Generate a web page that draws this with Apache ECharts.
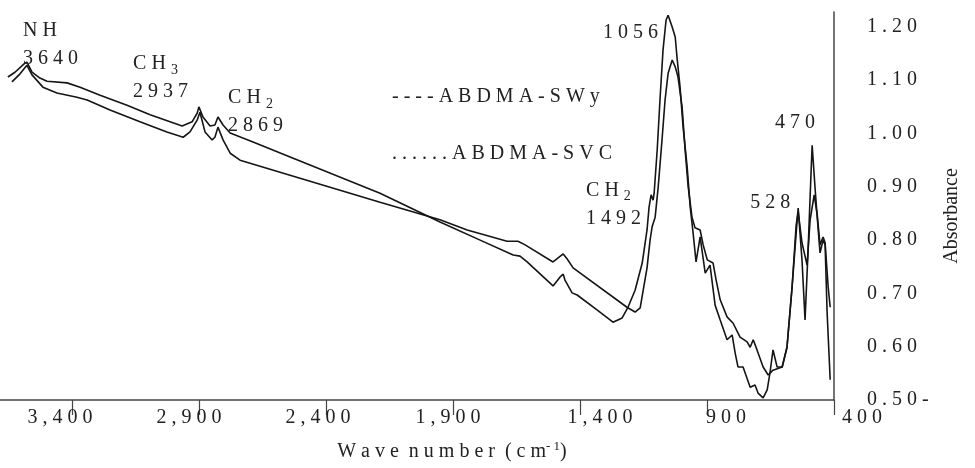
<!DOCTYPE html>
<html>
<head>
<meta charset="utf-8">
<script src="https://cdn.jsdelivr.net/npm/echarts@6/dist/echarts.min.js"></script>
<style>
html, body { margin: 0; padding: 0; background: #fff; }
#chart { width: 975px; height: 468px; }
</style>
</head>
<body>
<div id="chart"></div>
<script>
// spectra: wave number (cm-1) and absorbance
const swyWave = [3652, 3624, 3585, 3577, 3557, 3526, 3498, 3419, 3368, 3289, 3183, 3092, 2966, 2927, 2907, 2900, 2884, 2856, 2837, 2825, 2805, 2777, 2687, 2541, 2187, 1951, 1793, 1663, 1636, 1608, 1506, 1478, 1466, 1459, 1431, 1411, 1333, 1270, 1234, 1211, 1183, 1155, 1136, 1128, 1120, 1112, 1108, 1096, 1085, 1073, 1061, 1053, 1037, 1025, 1018, 1006, 994, 978, 966, 955, 943, 927, 907, 888, 868, 848, 821, 801, 789, 778, 758, 730, 711, 699, 679, 663, 652, 640, 624, 604, 585, 565, 545, 541, 526, 514, 502, 490, 486, 474, 466, 455, 443, 435, 427, 415]
const swyAbs = [1.106, 1.115, 1.132, 1.134, 1.115, 1.104, 1.098, 1.095, 1.087, 1.072, 1.053, 1.035, 1.014, 1.022, 1.038, 1.050, 1.031, 1.014, 1.016, 1.031, 1.016, 1.001, 0.984, 0.956, 0.888, 0.834, 0.800, 0.772, 0.770, 0.759, 0.714, 0.731, 0.736, 0.725, 0.701, 0.697, 0.669, 0.646, 0.654, 0.674, 0.706, 0.757, 0.819, 0.862, 0.885, 0.875, 0.888, 0.969, 1.063, 1.157, 1.213, 1.222, 1.200, 1.181, 1.143, 1.087, 1.012, 0.937, 0.862, 0.815, 0.759, 0.806, 0.738, 0.753, 0.678, 0.650, 0.613, 0.622, 0.588, 0.562, 0.562, 0.524, 0.528, 0.513, 0.504, 0.519, 0.551, 0.594, 0.562, 0.562, 0.599, 0.712, 0.838, 0.860, 0.763, 0.650, 0.781, 0.931, 0.978, 0.894, 0.843, 0.776, 0.800, 0.791, 0.663, 0.538]

const svcWave = [3636, 3604, 3577, 3557, 3514, 3459, 3380, 3340, 3250, 3132, 3026, 2962, 2935, 2907, 2896, 2876, 2848, 2837, 2825, 2805, 2777, 2738, 2187, 1951, 1844, 1687, 1644, 1616, 1506, 1466, 1451, 1427, 1215, 1183, 1163, 1151, 1136, 1124, 1116, 1104, 1092, 1077, 1065, 1053, 1037, 1025, 1014, 998, 986, 974, 959, 947, 927, 915, 899, 876, 864, 848, 821, 797, 770, 742, 730, 718, 703, 679, 659, 640, 604, 585, 565, 549, 541, 526, 506, 494, 478, 466, 455, 443, 435, 423, 415]
const svcAbs = [1.097, 1.112, 1.128, 1.110, 1.087, 1.076, 1.068, 1.063, 1.044, 1.022, 1.003, 0.993, 1.003, 1.025, 1.040, 1.003, 0.988, 0.993, 1.012, 0.988, 0.963, 0.950, 0.871, 0.838, 0.819, 0.798, 0.798, 0.791, 0.759, 0.774, 0.765, 0.748, 0.674, 0.665, 0.673, 0.706, 0.748, 0.800, 0.825, 0.843, 0.900, 0.988, 1.063, 1.113, 1.138, 1.125, 1.106, 1.050, 0.969, 0.900, 0.843, 0.823, 0.819, 0.791, 0.763, 0.757, 0.725, 0.688, 0.656, 0.644, 0.618, 0.609, 0.599, 0.613, 0.594, 0.562, 0.547, 0.556, 0.562, 0.599, 0.712, 0.828, 0.853, 0.795, 0.753, 0.838, 0.885, 0.847, 0.791, 0.806, 0.795, 0.712, 0.674]

const xTicks = [400, 900, 1400, 1900, 2400, 2900, 3400]
const xTickLabels = ['400', '900', '1,400', '1,900', '2,400', '2,900', '3,400']
const yTicks = [0.5, 0.6, 0.7, 0.8, 0.9, 1.0, 1.1, 1.2]
const yTickLabels = ['0.50-', '0.60', '0.70', '0.80', '0.90', '1.00', '1.10', '1.20']

// band labels: group, subscript, wave number text, anchor (left edge) in data units
const bandGroup = ['NH', 'CH', 'CH', '', 'CH', '', '']
const bandSub = ['', '3', '2', '', '2', '', '']
const bandText = ['3640', '2937', '2869', '1056', '1492', '470', '528']
const bandWave = [3592, 3159, 2785, 1309, 1376, 632, 730]
const bandAbs = [1.166, 1.104, 1.040, 1.190, 0.867, 1.020, 0.870]

const legendNames = ['----ABDMA-SWy', '......ABDMA-SVC']

const GAP = '\u2005'
const sp = s => s.split('').join(GAP)
const FONT = '"Liberation Serif", "Times New Roman", serif'
const INK = '#222'

// the printed tick labels sit a little off their ticks (px, + = right)
const xLabelNudge = [28, 19, 20, -5, -8, -10, -12]

const chart = echarts.init(document.getElementById('chart'))

const richStyle = {
  n: { fontFamily: FONT, fontSize: 20, color: INK, lineHeight: 28 },
  sub: { fontFamily: FONT, fontSize: 14, color: INK, padding: [12, 0, 0, 0], lineHeight: 28 },
  sup: { fontFamily: FONT, fontSize: 13, color: INK, padding: [0, 0, 10, 0] }
}

const xLabelRich = {}
xLabelNudge.forEach((d, i) => {
  xLabelRich['t' + i] = {
    fontFamily: FONT, fontSize: 20, color: INK,
    padding: d > 0 ? [0, 0, 0, 2 * d] : [0, -2 * d, 0, 0]
  }
})

function bandLabel(i) {
  const lines = []
  if (bandGroup[i]) {
    let top = `{n|${sp(bandGroup[i])}}`
    if (bandSub[i]) top += `{n|${GAP}}{sub|${bandSub[i]}}`
    lines.push(top)
  }
  lines.push(`{n|${sp(bandText[i])}}`)
  return lines.join('\n')
}

const lineStyle = { color: '#151515', width: 1.6 }

chart.setOption({
  animation: false,
  grid: { left: 0, right: 141, top: 12, bottom: 68, containLabel: false },
  xAxis: {
    type: 'value',
    inverse: true,
    min: 400,
    max: 3683,
    interval: 500,
    name: `{n|${sp('Wave')}${GAP}${GAP}${sp('number')}${GAP}${GAP}${sp('(cm')}}{sup|${sp('-1')}}{n|)}`,
    nameLocation: 'middle',
    nameGap: 38,
    nameTextStyle: { padding: [0, 0, 0, 70], rich: richStyle },
    axisLine: { show: true, onZero: false, lineStyle: { color: '#444', width: 1.5 } },
    axisTick: { show: true, length: 15, lineStyle: { color: '#444', width: 1.2 } },
    axisLabel: {
      margin: 8,
      fontFamily: FONT,
      fontSize: 20,
      color: INK,
      showMaxLabel: false,
      rich: xLabelRich,
      formatter: v => {
        const i = xTicks.findIndex(t => Math.abs(t - v) < 1)
        return i < 0 ? '' : `{t${i}|${sp(xTickLabels[i])}}`
      }
    },
    splitLine: { show: false }
  },
  yAxis: {
    type: 'value',
    position: 'right',
    min: 0.5,
    max: 1.228,
    interval: 0.1,
    name: 'Absorbance',
    nameLocation: 'middle',
    nameRotate: 90,
    nameGap: 108,
    nameTextStyle: { fontFamily: FONT, fontSize: 20, color: INK, padding: [0, 20, 0, 0] },
    axisLine: { show: true, onZero: false, lineStyle: { color: '#444', width: 1.5 } },
    axisTick: { show: false },
    axisLabel: {
      margin: 33,
      fontFamily: FONT,
      fontSize: 20,
      color: INK,
      showMaxLabel: false,
      formatter: v => {
        const i = yTicks.findIndex(t => Math.abs(t - v) < 0.001)
        return i < 0 ? '' : sp(yTickLabels[i])
      }
    },
    splitLine: { show: false }
  },
  graphic: legendNames.map((name, i) => ({
    type: 'text',
    left: 392,
    top: 87 + i * 57,
    style: { text: sp(name), font: `20px ${FONT}`, fill: INK }
  })),
  series: [
    {
      name: 'ABDMA-SWy',
      type: 'line',
      data: swyWave.map((w, i) => [w, swyAbs[i]]),
      symbol: 'none',
      lineStyle,
      markPoint: {
        silent: true,
        symbol: 'circle',
        symbolSize: 0,
        label: {
          show: true,
          position: 'right',
          distance: 0,
          formatter: p => bandLabel(p.dataIndex),
          rich: richStyle
        },
        data: bandText.map((t, i) => ({ name: t, coord: [bandWave[i], bandAbs[i]] }))
      }
    },
    {
      name: 'ABDMA-SVC',
      type: 'line',
      data: svcWave.map((w, i) => [w, svcAbs[i]]),
      symbol: 'none',
      lineStyle
    }
  ]
})
</script>
</body>
</html>
